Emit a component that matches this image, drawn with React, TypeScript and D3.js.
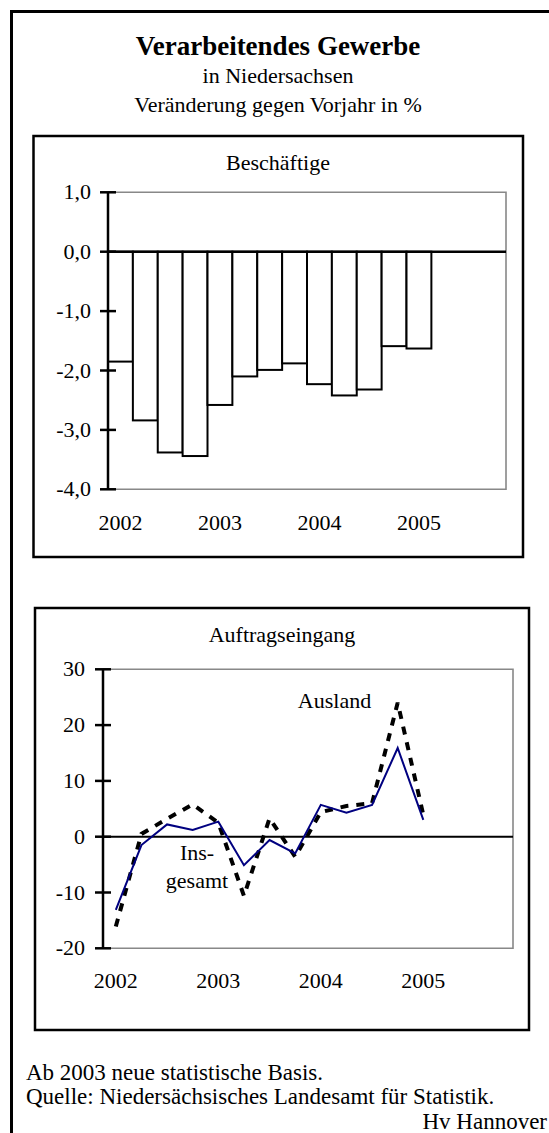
import React from "react";
import * as d3 from "d3";

// quarters 2002 Q1 .. 2005 Q4 (x slots of both charts)
const quarters = [
  "2002Q1", "2002Q2", "2002Q3", "2002Q4",
  "2003Q1", "2003Q2", "2003Q3", "2003Q4",
  "2004Q1", "2004Q2", "2004Q3", "2004Q4",
  "2005Q1", "2005Q2", "2005Q3", "2005Q4",
];
const yearLabels = ["2002", "2003", "2004", "2005"];

// Beschäftigte, Veränderung gegen Vorjahr in %
const beschaeftigte = [-1.85, -2.84, -3.38, -3.44, -2.58, -2.1, -1.99, -1.88, -2.23, -2.42, -2.32, -1.59, -1.63];
const barTicks = [1, 0, -1, -2, -3, -4];

// Auftragseingang
const insgesamt = [-13.1, -1.5, 2.2, 1.2, 2.7, -5.1, -0.6, -3.0, 5.7, 4.3, 5.7, 15.9, 3.0];
const ausland = [-16.1, 0.5, 3.2, 5.8, 2.5, -10.6, 3.3, -3.6, 4.4, 5.5, 6.0, 24.0, 3.9];
const lineTicks = [30, 20, 10, 0, -10, -20];

const FONT = "'Liberation Serif', 'Times New Roman', serif";
const deLocale = d3.formatLocale({ decimal: ",", thousands: ".", grouping: [3], currency: ["", " €"], minus: "-" });
const fmt1 = deLocale.format(".1f");
const fmt0 = deLocale.format("d");

function BarPanel() {
  const x = d3.scaleBand<string>().domain(quarters).range([108, 506]).padding(0);
  const y = d3.scaleLinear().domain([-4, 1]).range([489.3, 192.3]);
  const bw = x.bandwidth();
  return (
    <g>
      <rect x={33.5} y={136} width={489.5} height={421} fill="#fff" stroke="#000" strokeWidth={2.5} />
      <text x={278} y={170} textAnchor="middle" fontSize={22}>Beschäftige</text>
      {/* plot frame */}
      <path d={`M${x.range()[0]},${y(1)}H${x.range()[1]}V${y(-4)}H${x.range()[0]}`} fill="none" stroke="#888" strokeWidth={1.6} />
      {beschaeftigte.map((v, i) => (
        <rect key={i} x={x(quarters[i])} y={y(Math.max(0, v))} width={bw} height={Math.abs(y(v) - y(0))}
          fill="#fff" stroke="#000" strokeWidth={2} />
      ))}
      <line x1={x.range()[0]} x2={x.range()[1]} y1={y(0)} y2={y(0)} stroke="#000" strokeWidth={2.5} />
      <line x1={108} x2={108} y1={y(1)} y2={y(-4)} stroke="#000" strokeWidth={2.5} />
      {barTicks.map((t) => (
        <g key={t}>
          <line x1={100} x2={116} y1={y(t)} y2={y(t)} stroke="#000" strokeWidth={2.5} />
          <text x={91} y={y(t) + 7} textAnchor="end" fontSize={22}>{fmt1(t)}</text>
        </g>
      ))}
      {yearLabels.map((yr) => (
        <text key={yr} x={x(yr + "Q1")! + bw / 2} y={530} textAnchor="middle" fontSize={22}>{yr}</text>
      ))}
    </g>
  );
}

function LinePanel() {
  const x = d3.scaleBand<string>().domain(quarters).range([103, 513]).padding(0);
  const y = d3.scaleLinear().domain([-20, 30]).range([948.3, 669.3]);
  const bw = x.bandwidth();
  const line = d3.line<number>().x((_, i) => x(quarters[i])! + bw / 2).y((d) => y(d));
  return (
    <g>
      <rect x={35} y={608} width={494} height={422} fill="#fff" stroke="#000" strokeWidth={2.5} />
      <text x={282} y={642} textAnchor="middle" fontSize={22}>Auftragseingang</text>
      <path d={`M${x.range()[0]},${y(30)}H${x.range()[1]}V${y(-20)}H${x.range()[0]}`} fill="none" stroke="#888" strokeWidth={1.6} />
      <line x1={x.range()[0]} x2={x.range()[1]} y1={y(0)} y2={y(0)} stroke="#000" strokeWidth={2} />
      <path d={line(ausland)!} fill="none" stroke="#000" strokeWidth={4} strokeDasharray="8,8" />
      <path d={line(insgesamt)!} fill="none" stroke="#000080" strokeWidth={2} />
      <line x1={103} x2={103} y1={y(30)} y2={y(-20)} stroke="#000" strokeWidth={2.5} />
      {lineTicks.map((t) => (
        <g key={t}>
          <line x1={95} x2={111} y1={y(t)} y2={y(t)} stroke="#000" strokeWidth={2.5} />
          <text x={85} y={y(t) + 7} textAnchor="end" fontSize={22}>{fmt0(t)}</text>
        </g>
      ))}
      {yearLabels.map((yr) => (
        <text key={yr} x={x(yr + "Q1")! + bw / 2} y={988} textAnchor="middle" fontSize={22}>{yr}</text>
      ))}
      <text x={334.5} y={708} textAnchor="middle" fontSize={22}>Ausland</text>
      <text x={197} y={860} textAnchor="middle" fontSize={22}>Ins-</text>
      <text x={197} y={888} textAnchor="middle" fontSize={22}>gesamt</text>
    </g>
  );
}

export default function App() {
  return (
    <svg width={549} height={1133} style={{ position: "absolute", left: 0, top: 0 }} fontFamily={FONT}>
      <rect x={0} y={0} width={549} height={1133} fill="#fff" />
      <rect x={11.5} y={11.5} width={560} height={1140} fill="none" stroke="#000" strokeWidth={3} />
      <text x={278} y={55} textAnchor="middle" fontSize={27} fontWeight="bold">Verarbeitendes Gewerbe</text>
      <text x={278} y={83} textAnchor="middle" fontSize={22}>in Niedersachsen</text>
      <text x={278} y={112} textAnchor="middle" fontSize={22}>Veränderung gegen Vorjahr in %</text>
      <BarPanel />
      <LinePanel />
      <text x={26} y={1080} fontSize={23}>Ab 2003 neue statistische Basis.</text>
      <text x={26} y={1104} fontSize={23}>Quelle: Niedersächsisches Landesamt für Statistik.</text>
      <text x={547} y={1129} textAnchor="end" fontSize={23}>Hv Hannover</text>
    </svg>
  );
}
